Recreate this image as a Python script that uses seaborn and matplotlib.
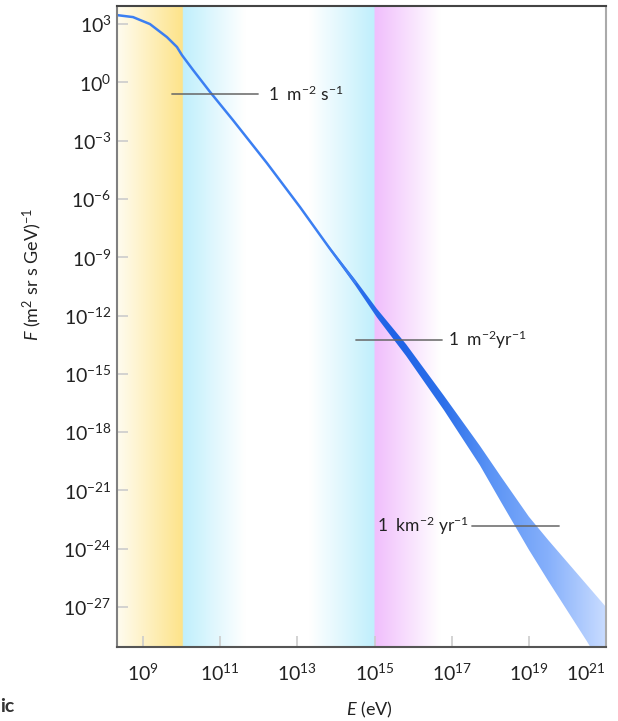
import numpy as np
import matplotlib
matplotlib.use("Agg")
import matplotlib.pyplot as plt
import seaborn as sns
from matplotlib.colors import to_rgb
from matplotlib.ticker import NullLocator

# ---------------- data ----------------
# log10 of energy (eV) and log10 of flux F (m^2 sr s GeV)^-1 along the spectrum centre
energy_log = [8.33, 8.74, 9.18, 9.62, 9.88, 10.01, 10.30, 10.74, 11.33, 12.21,
              13.07, 13.59, 13.84, 14.50, 15.06, 15.82, 16.80, 17.73, 18.28,
              19.00, 19.50, 20.00, 20.50, 21.00]
flux_log = [3.46, 3.36, 3.00, 2.33, 1.82, 1.40, 0.63, -0.50, -1.94, -4.15,
            -6.42, -7.86, -8.55, -10.30, -11.87, -13.78, -16.50, -19.20, -20.95,
            -23.20, -24.60, -25.95, -27.30, -28.70]
# half-width of the uncertainty band (decades)
band_halfwidth = [0, 0, 0, 0, 0, 0, 0, 0, 0, 0,
                  0, 0, 0.08, 0.15, 0.22, 0.30, 0.37, 0.50, 0.65,
                  0.85, 1.05, 1.25, 1.45, 1.70]

x_tick_exps = [9, 11, 13, 15, 17, 19, 21]
y_tick_exps = [3, 0, -3, -6, -9, -12, -15, -18, -21, -24, -27]

ann_labels = [r"1  m$^{-2}$ s$^{-1}$", r"1  m$^{-2}$yr$^{-1}$", r"1  km$^{-2}$ yr$^{-1}$"]
ann_flux_log = [-0.60, -13.26, -22.84]
ann_line_start_log = [9.75, 14.52, 17.53]
ann_line_end_log = [11.98, 16.75, 19.78]
ann_text_log = [12.24, 16.91, 17.45]
ann_text_ha = ["left", "left", "right"]

# energy regions (log10 eV): yellow, cyan, magenta boundaries
region_edges_log = [10.03, 15.0]

# ---------------- style ----------------
sns.set_theme(style="white")
plt.rcParams["font.family"] = ["Lato", "DejaVu Sans"]
plt.rcParams["mathtext.fontset"] = "custom"
plt.rcParams["mathtext.rm"] = "Lato"
plt.rcParams["mathtext.it"] = "Lato:italic"
plt.rcParams["mathtext.bf"] = "Lato:bold"

XMIN_LOG, XMAX_LOG = 8.326, 21.0
YMIN_LOG, YMAX_LOG = -29.06, 3.93

fig = plt.figure(figsize=(6.18, 7.21), dpi=100)
ax = fig.add_axes([117 / 618, 74 / 721, 489 / 618, 641 / 721])
ax.set_xscale("log")
ax.set_yscale("log")
ax.set_xlim(10 ** XMIN_LOG, 10 ** XMAX_LOG)
ax.set_ylim(10 ** YMIN_LOG, 10 ** YMAX_LOG)


def mix(c1, c2, t):
    a, b = np.array(to_rgb(c1)), np.array(to_rgb(c2))
    return a + (b - a) * t


# background gradients
cols = np.linspace(XMIN_LOG, XMAX_LOG, 1500)
bg = []
e1, e2 = region_edges_log
for l in cols:
    if l < e1:
        t = (l - XMIN_LOG) / (e1 - XMIN_LOG)
        bg.append(mix("#fffcf0", "#fde389", t))
    elif l < e2:
        t1 = np.clip((11.64 - l) / (11.64 - e1), 0, 1)
        t2 = np.clip((l - 13.33) / (e2 - 13.33), 0, 1)
        bg.append(mix("#ffffff", "#c0effc", max(t1, t2)))
    else:
        t = np.clip((16.7 - l) / (16.7 - e2), 0, 1)
        bg.append(mix("#ffffff", "#f0bdfc", t))
bg = np.array(bg)[np.newaxis, :, :]
ax.imshow(bg, extent=[0, 1, 0, 1], transform=ax.transAxes, aspect="auto",
          zorder=0, interpolation="bilinear")

# spectrum data
E = 10.0 ** np.array(energy_log)
F = 10.0 ** np.array(flux_log)
hw = np.array(band_halfwidth)

thin = np.array(energy_log) <= 14.6
sns.lineplot(x=E[thin], y=F[thin], ax=ax, color="#3b7ff2", linewidth=1.8,
             zorder=3, estimator=None, sort=False)

band = hw > 0
band_idx = np.where(band)[0]
band_idx = np.concatenate([[band_idx[0] - 1], band_idx])
poly = ax.fill_between(E[band_idx], F[band_idx] * 10 ** (-hw[band_idx]),
                       F[band_idx] * 10 ** hw[band_idx],
                       facecolor="none", linewidth=0, zorder=2)
stops = [(XMIN_LOG, "#3a7cf2"), (13.6, "#3a7cf2"), (15.5, "#1e62e6"),
         (16.8, "#2d70ea"), (18.0, "#5a93f5"), (19.5, "#86b0fb"), (21.0, "#c9dcff")]
sl = [s[0] for s in stops]
srgb = np.array([to_rgb(s[1]) for s in stops])
bimg = np.stack([np.interp(cols, sl, srgb[:, k]) for k in range(3)], axis=1)[np.newaxis]
im = ax.imshow(bimg, extent=[0, 1, 0, 1], transform=ax.transAxes, aspect="auto",
               zorder=2.5, interpolation="bilinear")
im.set_clip_path(poly.get_paths()[0], ax.transData)

# reference flux annotations
for lab, fl, xs, xe, xt, ha in zip(ann_labels, ann_flux_log, ann_line_start_log,
                                   ann_line_end_log, ann_text_log, ann_text_ha):
    ax.plot([10 ** xs, 10 ** xe], [10 ** fl, 10 ** fl], color="#666666",
            linewidth=1.3, alpha=0.85, zorder=4)
    ax.text(10 ** xt, 10 ** fl, lab, ha=ha, va="center", fontsize=12.5,
            color="#222222", zorder=5)

# axes / ticks
ax.set_xticks(10.0 ** np.array(x_tick_exps))
ax.set_xticklabels([rf"$10^{{{e}}}$" for e in x_tick_exps])
ax.set_yticks(10.0 ** np.array(y_tick_exps))
ax.set_yticklabels([rf"$10^{{{e}}}$" for e in y_tick_exps])
ax.xaxis.set_minor_locator(NullLocator())
ax.yaxis.set_minor_locator(NullLocator())
ax.tick_params(axis="both", which="major", direction="in", length=8, width=1.2,
               color="#cccccc", labelsize=14, labelcolor="#222222")
ax.tick_params(axis="x", pad=11, bottom=True, top=False)
ax.tick_params(axis="y", pad=4, left=True, right=False)
ax.get_xticklabels()[-1].set_horizontalalignment("right")

for side, c in [("left", "#808080"), ("bottom", "#555555"), ("top", "#444444"), ("right", "#aaaaaa")]:
    ax.spines[side].set_color(c)
    ax.spines[side].set_linewidth(1.5)
    ax.spines[side].set_zorder(6)

ax.set_xlabel(r"$\mathit{E}$ (eV)", fontsize=13, color="#222222")
ax.xaxis.set_label_coords(0.517, -0.082)
ax.set_ylabel(r"$\mathit{F}$ (m$^{2}$ sr s GeV)$^{-1}$", fontsize=13, color="#222222")
ax.yaxis.set_label_coords(-0.15, 0.582)

fig.text(0.0, 14 / 721, "ic", fontsize=14, fontweight="bold", color="#333333",
         ha="left", va="center")

fig.savefig("out.png", dpi=100)
